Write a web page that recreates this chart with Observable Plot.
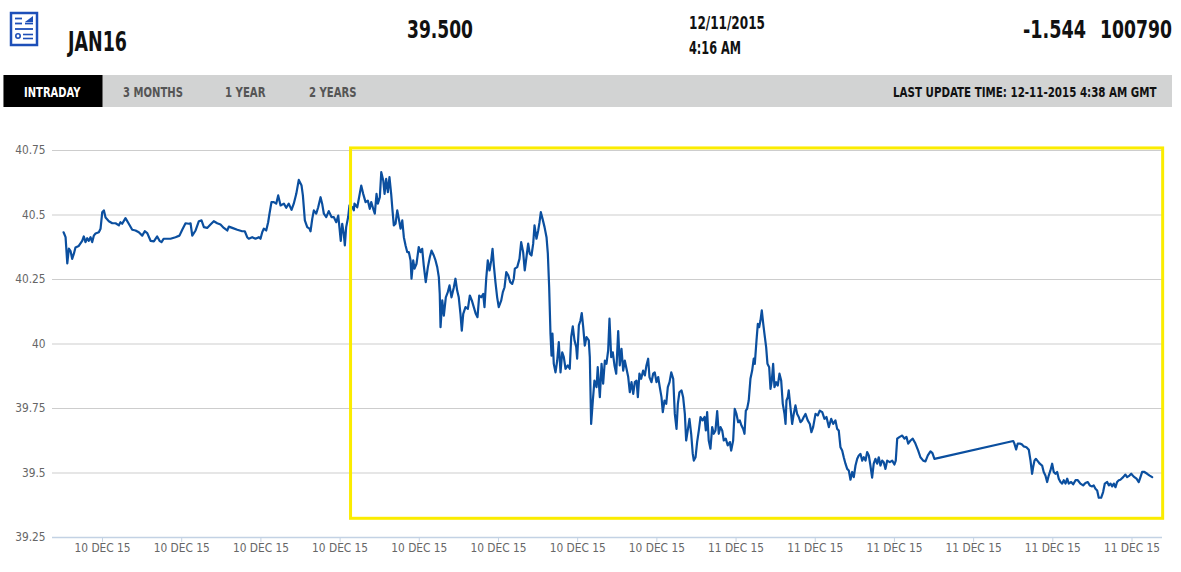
<!DOCTYPE html>
<html>
<head>
<meta charset="utf-8">
<script src="https://cdn.jsdelivr.net/npm/d3@7"></script>
<script src="https://cdn.jsdelivr.net/npm/@observablehq/plot@0.6"></script>
<style>
  html, body { margin: 0; padding: 0; background: #fff; }
  #page { position: relative; width: 1181px; height: 572px; overflow: hidden; background: #fff; }
  #header { position: absolute; left: 0; top: 0; }
  #chart { position: absolute; left: 0; top: 110px; }
  .hd { font-family: "DejaVu Sans Condensed", "Liberation Sans Narrow", sans-serif; font-weight: bold; }
</style>
</head>
<body>
<div id="page">
  <svg id="header" width="1181" height="110" xmlns="http://www.w3.org/2000/svg">
    <g fill="none" stroke="#1d4fb8">
      <rect x="11" y="13" width="26" height="32" stroke-width="2.5"/>
      <line x1="15" y1="18.5" x2="22" y2="18.5" stroke-width="1.8"/>
      <line x1="15" y1="23.5" x2="22" y2="23.5" stroke-width="1.8"/>
      <line x1="25" y1="23.5" x2="33" y2="23.5" stroke-width="1.8"/>
      <line x1="15" y1="29" x2="33" y2="29" stroke-width="1.8"/>
      <circle cx="18" cy="36" r="2.2" stroke-width="1.6"/>
      <line x1="23" y1="34.5" x2="33" y2="34.5" stroke-width="1.6"/>
      <line x1="23" y1="38.5" x2="33" y2="38.5" stroke-width="1.6"/>
    </g>
    <path d="M25 22 L33 16 L33 22 Z" fill="#1d4fb8"/>
    <text class="hd" x="68" y="51" font-size="26" fill="#111" data-w="59">JAN16</text>
    <text class="hd" x="407" y="37.5" font-size="25" fill="#111" data-w="66">39.500</text>
    <text class="hd" x="689" y="28.5" font-size="17.5" fill="#111" data-w="76">12/11/2015</text>
    <text class="hd" x="689" y="54" font-size="17.5" fill="#111" data-w="52">4:16 AM</text>
    <text class="hd" x="1023" y="37.5" font-size="25" fill="#111" data-w="63">-1.544</text>
    <text class="hd" x="1100" y="37.5" font-size="25" fill="#111" data-w="72">100790</text>
    <rect x="3.5" y="75" width="1168.5" height="32" fill="#d2d3d3"/>
    <rect x="3.5" y="75" width="99" height="32" fill="#000"/>
    <text class="hd" x="24" y="96.7" font-size="14.5" fill="#fff" data-w="56.5">INTRADAY</text>
    <text class="hd" x="123" y="96.7" font-size="14.5" fill="#555" data-w="60">3 MONTHS</text>
    <text class="hd" x="225" y="96.7" font-size="14.5" fill="#555" data-w="40.5">1 YEAR</text>
    <text class="hd" x="309" y="96.7" font-size="14.5" fill="#555" data-w="47.5">2 YEARS</text>
    <text class="hd" x="893" y="97" font-size="13.5" fill="#111" data-w="264">LAST UPDATE TIME: 12-11-2015 4:38 AM GMT</text>
  </svg>
  <div id="chart"></div>
</div>
<script>
// ---- data (minutes after 10 Dec 2015 15:00, price) ----
const baseTimeUTC = "2015-12-10T15:00:00Z";
const intradayPoints = [
[30.5,40.433],[32.0,40.414],[33.3,40.312],[34.5,40.37],[35.8,40.36],[37.0,40.33],[38.3,40.35],[39.5,40.374],[42.0,40.38],[44.6,40.40],[45.8,40.417],[47.1,40.395],[48.4,40.41],[49.6,40.40],[50.9,40.414],[52.2,40.395],[53.4,40.42],[54.7,40.428],[57.2,40.433],[58.5,40.447],[59.8,40.511],[61.0,40.518],[62.3,40.49],[64.8,40.476],[67.4,40.468],[69.9,40.468],[72.4,40.46],[73.6,40.472],[74.9,40.466],[77.4,40.488],[79.9,40.466],[82.5,40.443],[85.0,40.44],[87.5,40.433],[90.1,40.42],[92.0,40.437],[93.9,40.43],[96.4,40.40],[98.9,40.398],[101.4,40.417],[103.2,40.40],[104.7,40.395],[106.4,40.408],[111.5,40.408],[115.3,40.414],[118.3,40.42],[120.4,40.443],[122.9,40.468],[125.4,40.466],[126.7,40.468],[128.0,40.42],[130.5,40.44],[133.0,40.476],[135.0,40.479],[136.8,40.453],[139.3,40.45],[141.8,40.463],[144.3,40.476],[146.9,40.468],[149.4,40.463],[151.9,40.45],[154.5,40.44],[155.7,40.455],[158.3,40.45],[162.1,40.443],[165.8,40.437],[167.8,40.437],[169.6,40.414],[170.8,40.408],[173.4,40.414],[175.9,40.408],[178.4,40.414],[179.7,40.408],[181.0,40.433],[182.2,40.447],[184.0,40.44],[185.5,40.472],[186.5,40.505],[188.0,40.55],[189.8,40.55],[191.6,40.544],[193.1,40.576],[194.9,40.537],[197.4,40.544],[199.2,40.528],[201.1,40.544],[203.2,40.52],[204.9,40.544],[206.8,40.582],[208.7,40.636],[210.8,40.614],[211.8,40.576],[213.3,40.479],[215.1,40.453],[216.8,40.447],[217.6,40.437],[218.9,40.485],[220.1,40.518],[221.9,40.505],[223.4,40.53],[225.2,40.569],[226.4,40.544],[227.7,40.505],[229.5,40.492],[231.4,40.515],[233.5,40.492],[235.2,40.492],[237.1,40.472],[238.6,40.498],[239.6,40.447],[240.5,40.40],[241.6,40.466],[242.8,40.427],[243.6,40.382],[244.6,40.453],[246.1,40.492],[247.1,40.537],[249.2,40.53],[250.4,40.518],
[250.9,40.544],[253.0,40.53],[254.2,40.563],[256.0,40.614],[257.5,40.582],[259.3,40.55],[261.0,40.556],[262.5,40.524],[263.6,40.55],[265.1,40.524],[266.3,40.505],[267.6,40.582],[268.6,40.544],[270.1,40.569],[271.2,40.666],[272.7,40.634],[273.7,40.582],[274.9,40.64],[276.2,40.589],[277.4,40.647],[278.7,40.582],[279.7,40.518],[280.7,40.46],[282.0,40.466],[283.3,40.518],[284.5,40.485],[285.8,40.447],[287.1,40.479],[288.3,40.414],[289.6,40.382],[290.9,40.356],[292.1,40.356],[293.4,40.324],[294.1,40.253],[295.4,40.324],[296.4,40.292],[297.9,40.311],[299.6,40.376],[300.9,40.356],[302.2,40.369],[303.4,40.304],[304.9,40.24],[306.5,40.298],[308.0,40.337],[309.3,40.362],[311.0,40.343],[312.3,40.324],[313.6,40.298],[314.8,40.259],[315.5,40.194],[316.1,40.065],[317.4,40.169],[318.6,40.11],[320.1,40.181],[321.6,40.201],[322.9,40.227],[324.4,40.181],[326.2,40.22],[327.4,40.253],[328.7,40.207],[329.9,40.181],[331.2,40.117],[332.2,40.052],[333.3,40.117],[335.0,40.143],[336.8,40.136],[338.3,40.188],[339.8,40.169],[341.3,40.143],[342.8,40.117],[344.1,40.104],[345.4,40.188],[346.9,40.181],[348.4,40.194],[349.4,40.143],[350.7,40.253],[351.9,40.324],[353.2,40.285],[354.5,40.324],[355.5,40.369],[356.5,40.304],[357.7,40.24],[359.0,40.181],[360.2,40.143],[362.1,40.169],[363.3,40.201],[364.6,40.22],[365.9,40.279],[367.4,40.266],[368.9,40.24],[370.4,40.233],[371.6,40.253],[372.4,40.292],[374.2,40.298],[375.9,40.33],[377.2,40.395],[378.7,40.356],[379.9,40.285],[381.2,40.337],[382.5,40.389],[383.7,40.35],[385.0,40.343],[386.3,40.389],[387.3,40.46],[388.8,40.408],[390.1,40.44],[391.1,40.472],[392.1,40.511],[393.4,40.485],[394.9,40.453],[396.4,40.414],[397.4,40.35],[398.4,40.22],[399.4,40.04],[400.2,39.955],[400.9,40.04],[401.9,39.923],[403.2,39.89],[404.5,39.936],[405.7,40.007],[407.0,39.89],[408.3,39.968],[409.5,39.949],[410.8,39.904],[412.5,39.917],[414.0,39.904],[415.1,40.027],[416.3,40.068],[417.6,40.014],[418.9,39.988],[419.6,39.943],[420.9,40.072],[422.1,40.091],[423.1,40.12],[424.2,40.065],[425.4,39.994],[426.7,40.027],[428.4,40.014],[429.2,39.949],[430.2,39.69],[431.5,39.781],[432.7,39.858],[434.3,39.833],[435.2,39.91],[436.8,39.794],[438.1,39.923],[439.3,39.846],[440.6,39.936],[441.8,39.923],[443.1,39.975],[444.1,40.098],[445.4,39.949],[446.6,39.968],[447.9,39.917],[449.2,39.885],[450.7,40.05],[451.9,39.917],[453.2,39.981],[454.5,39.897],[455.7,39.936],[457.0,39.904],[458.3,39.872],[459.5,39.813],[460.8,39.852],[462.1,39.807],[463.3,39.852],[464.6,39.858],[465.6,39.794],[466.8,39.885],[468.1,39.865],[469.6,39.897],[470.9,39.878],[472.1,39.917],[473.4,39.943],[474.4,39.872],[475.9,39.852],[477.2,39.885],[478.4,39.89],[479.7,39.852],[481.0,39.872],[482.2,39.833],[483.5,39.794],[484.5,39.736],[485.8,39.781],[487.1,39.768],[488.3,39.833],[489.6,39.852],[490.9,39.89],[492.4,39.865],[493.6,39.729],[494.9,39.671],[495.9,39.768],[497.1,39.813],[498.7,39.82],[499.9,39.794],[501.2,39.729],[502.2,39.626],[503.4,39.665],[504.7,39.71],[506.0,39.652],[507.2,39.574],[508.0,39.548],[509.3,39.561],[510.5,39.62],[511.8,39.665],[513.1,39.717],[514.6,39.704],[516.1,39.717],[517.1,39.665],[518.1,39.736],[519.3,39.626],[520.6,39.594],[521.9,39.678],[523.1,39.652],[524.4,39.665],[525.7,39.74],[526.9,39.652],[528.2,39.678],[529.5,39.665],[530.7,39.626],[532.2,39.633],[533.7,39.607],[535.3,39.62],[536.3,39.587],[537.8,39.626],[539.0,39.749],[540.3,39.729],[541.6,39.697],[542.8,39.704],[544.1,39.684],[545.4,39.671],[546.4,39.652],[547.4,39.742],[548.4,39.749],[549.6,39.781],[550.9,39.865],[552.2,39.897],[553.4,39.943],[554.2,39.923],[555.5,40.014],[556.5,40.078],[557.5,40.065],[558.5,40.091],[559.5,40.13],[560.6,40.078],[561.5,40.04],[562.8,39.988],[563.8,39.923],[565.1,39.91],[566.1,39.826],[567.1,39.858],[568.1,39.923],[569.1,39.833],[570.4,39.852],[571.6,39.839],[572.9,39.885],[574.2,39.858],[575.4,39.768],[576.7,39.729],[577.5,39.69],[578.2,39.781],[579.2,39.794],[579.9,39.82],[581.2,39.755],[582.5,39.69],[583.7,39.729],[585.0,39.762],[586.3,39.729],[587.5,39.717],[588.8,39.697],[590.1,39.704],[591.3,39.717],[592.6,39.729],[594.3,39.704],[595.9,39.69],[597.1,39.658],[598.4,39.678],[600.2,39.729],[601.9,39.723],[603.4,39.742],[605.3,39.736],[607.0,39.71],[608.5,39.717],[610.3,39.678],[612.1,39.71],[613.6,39.69],[615.3,39.704],[616.6,39.671],[617.8,39.665],[619.1,39.6],[620.4,39.587],[621.6,39.561],[622.9,39.536],[624.2,39.516],[625.4,39.51],[626.7,39.474],[628.0,39.504],[629.2,39.484],[630.5,39.529],[631.8,39.555],[633.0,39.568],[634.3,39.574],[635.6,39.548],[636.8,39.561],[638.1,39.548],[639.3,39.581],[640.6,39.568],[641.8,39.529],[643.1,39.482],[644.3,39.536],[645.6,39.555],[646.9,39.536],[648.1,39.561],[649.4,39.529],[650.7,39.548],[651.9,39.542],[653.2,39.516],[654.5,39.548],[656.5,39.542],[658.3,39.548],[660.0,39.533],[661.0,39.548],[662.1,39.633],[664.0,39.64],[665.9,39.645],[667.6,39.633],[669.1,39.64],[670.4,39.614],[672.2,39.626],[673.9,39.633],[675.9,39.614],[678.0,39.587],[679.7,39.561],[681.8,39.548],[683.5,39.545],[685.3,39.568],[687.3,39.584],[688.8,39.577],[690.3,39.555],
[750.0,39.624],[750.9,39.614],[752.2,39.591],[753.4,39.614],[755.0,39.614],[756.5,39.611],[758.0,39.603],[760.0,39.6],[761.8,39.59],[763.1,39.548],[764.3,39.497],[765.1,39.523],[766.1,39.548],[767.1,39.555],[768.6,39.546],[770.1,39.536],[771.9,39.529],[773.1,39.504],[774.4,39.49],[775.7,39.465],[776.9,39.49],[778.2,39.51],[779.5,39.536],[780.7,39.504],[782.0,39.497],[783.3,39.504],[784.5,39.478],[785.8,39.465],[787.1,39.459],[788.3,39.472],[789.6,39.459],[790.9,39.478],[792.1,39.459],[793.9,39.465],[795.4,39.456],[797.2,39.472],[798.9,39.472],[800.9,39.459],[803.0,39.452],[804.7,39.461],[806.5,39.465],[808.0,39.452],[809.8,39.448],[811.0,39.452],[812.3,39.439],[813.6,39.432],[814.8,39.404],[816.6,39.404],[818.1,39.426],[819.4,39.459],[821.2,39.465],[822.4,39.452],[823.7,39.459],[825.0,39.448],[826.2,39.459],[827.5,39.445],[828.7,39.465],[830.0,39.472],[831.2,39.474],[833.3,39.484],[835.0,39.494],[836.3,39.484],[838.1,39.49],[839.4,39.497],[841.3,39.486],[843.4,39.478],[845.1,39.465],[846.4,39.484],[847.7,39.504],[849.4,39.504],[851.5,39.497],[853.4,39.49],[855.3,39.484]
];
const xDomainMinutes = [22.1, 863.1];
const xTickMinutes = [60, 120, 180, 240, 300, 360, 420, 480, 540, 600, 660, 720, 780, 840];
const xTickLabels = ["10 DEC 15","10 DEC 15","10 DEC 15","10 DEC 15","10 DEC 15","10 DEC 15","10 DEC 15","10 DEC 15","11 DEC 15","11 DEC 15","11 DEC 15","11 DEC 15","11 DEC 15","11 DEC 15"];
const yDomain = [39.25, 40.75];
const yTicks = [39.25, 39.5, 39.75, 40, 40.25, 40.5, 40.75];
const yTickLabels = ["39.25", "39.5", "39.75", "40", "40.25", "40.5", "40.75"];
const highlightMinutes = [248.3, 863.6];
const highlightPrices = [39.3225, 40.758];

// ---- header text fitting (condensed look) ----
document.querySelectorAll("#header text[data-w]").forEach(t => {
  const target = +t.dataset.w;
  const natural = t.getComputedTextLength();
  const x = +t.getAttribute("x"), y = +t.getAttribute("y");
  t.setAttribute("x", 0);
  t.setAttribute("y", 0);
  t.setAttribute("transform", `translate(${x},${y}) scale(${natural ? target / natural : 1},1)`);
});

// ---- build ----
const base = new Date(baseTimeUTC).getTime();
const toDate = m => new Date(base + m * 60000);
const rows = intradayPoints.map(([m, p]) => ({date: toDate(m), price: p}));
const tickDates = xTickMinutes.map(toDate);
const xLabelMap = new Map(tickDates.map((d, i) => [d.getTime(), xTickLabels[i]]));
const yLabelMap = new Map(yTicks.map((v, i) => [v, yTickLabels[i]]));
const box = [{x1: toDate(highlightMinutes[0]), x2: toDate(highlightMinutes[1]), y1: highlightPrices[0], y2: highlightPrices[1]}];

const chart = Plot.plot({
  width: 1181,
  height: 462,
  marginTop: 40,
  marginBottom: 35,
  marginLeft: 52,
  marginRight: 19,
  style: {
    fontFamily: "'DejaVu Sans Condensed', 'Liberation Sans Narrow', sans-serif",
    fontSize: "11.8px",
    color: "#666",
    background: "transparent",
    overflow: "visible"
  },
  x: {type: "utc", domain: xDomainMinutes.map(toDate)},
  y: {domain: yDomain},
  marks: [
    Plot.gridY(yTicks, {stroke: "#cdcdcd", strokeOpacity: 1, strokeWidth: 1}),
    Plot.ruleY([yDomain[0]], {stroke: "#c3d2e4", strokeWidth: 1.5}),
    Plot.line(rows, {x: "date", y: "price", stroke: "#0b4f9f", strokeWidth: 2.2, strokeLinejoin: "round"}),
    Plot.rect(box, {x1: "x1", x2: "x2", y1: "y1", y2: "y2", fill: "none", stroke: "#fbec00", strokeWidth: 3}),
    Plot.axisX(tickDates, {tickSize: 5, tickPadding: 1, stroke: "#c3d2e4", fill: "#666", tickFormat: d => xLabelMap.get(d.getTime())}),
    Plot.axisY(yTicks, {tickSize: 0, tickPadding: 7, fill: "#666", tickFormat: d => yLabelMap.get(d)})
  ]
});
document.getElementById("chart").appendChild(chart);
</script>
</body>
</html>
